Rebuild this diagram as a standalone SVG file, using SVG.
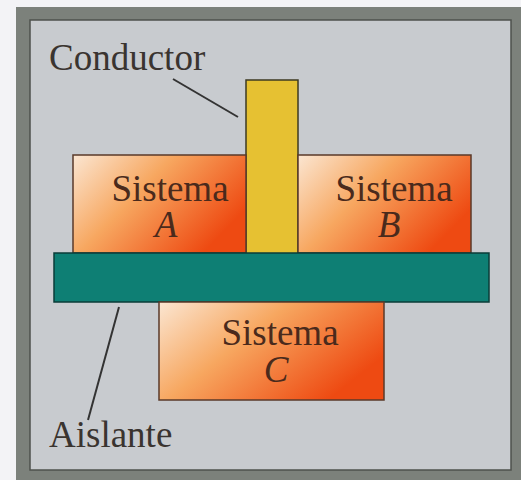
<svg xmlns="http://www.w3.org/2000/svg" width="521" height="480" viewBox="0 0 521 480">
  <defs>
    <linearGradient id="orange" x1="0" y1="0" x2="1" y2="0.55">
      <stop offset="0" stop-color="#fbe6d2"/>
      <stop offset="0.45" stop-color="#f7a760"/>
      <stop offset="1" stop-color="#ee4a12"/>
    </linearGradient>
    <style>
      .box { fill: url(#orange); stroke: #5a3a2a; stroke-width: 1.5; }
      .lbl { font-family: "Liberation Serif", "Times New Roman", serif; font-size: 37px; fill: #3a3430; }
      .sys { font-family: "Liberation Serif", "Times New Roman", serif; font-size: 37px; fill: #4a2a1c; text-anchor: middle; }
      .it { font-style: italic; }
      .lead { stroke: #333; stroke-width: 2; fill: none; }
    </style>
  </defs>
  <rect x="0" y="0" width="521" height="480" fill="#f3f3f6"/>
  <g id="frame">
    <rect x="16" y="7" width="505" height="473" fill="#7c817b"/>
    <rect x="30" y="20" width="481" height="450" fill="#c8cbcf" stroke="#4e524d" stroke-width="1.5"/>
  </g>
  <g id="conductor">
    <rect x="246" y="80" width="52" height="174" fill="#e6c132" stroke="#3d3a22" stroke-width="1.5"/>
  </g>
  <g id="sistemaA">
    <rect class="box" x="73" y="155" width="173" height="98"/>
    <text class="sys" x="170" y="201">Sistema</text>
    <text class="sys it" x="166" y="237">A</text>
  </g>
  <g id="sistemaB">
    <rect class="box" x="298" y="155" width="173" height="98"/>
    <text class="sys" x="394" y="201">Sistema</text>
    <text class="sys it" x="389" y="237">B</text>
  </g>
  <g id="aislante">
    <rect x="54" y="253" width="435" height="49" fill="#0e7f74" stroke="#0a3d38" stroke-width="1.5"/>
  </g>
  <g id="sistemaC">
    <rect class="box" x="159" y="302" width="225" height="98"/>
    <text class="sys" x="280" y="345">Sistema</text>
    <text class="sys it" x="276" y="382">C</text>
  </g>
  <g id="connectors">
    <line class="lead" x1="173" y1="79" x2="238" y2="117"/>
    <line class="lead" x1="119" y1="307" x2="88" y2="420"/>
  </g>
  <g id="labels">
    <text class="lbl" x="49" y="70">Conductor</text>
    <text class="lbl" x="49" y="447">Aislante</text>
  </g>
</svg>
